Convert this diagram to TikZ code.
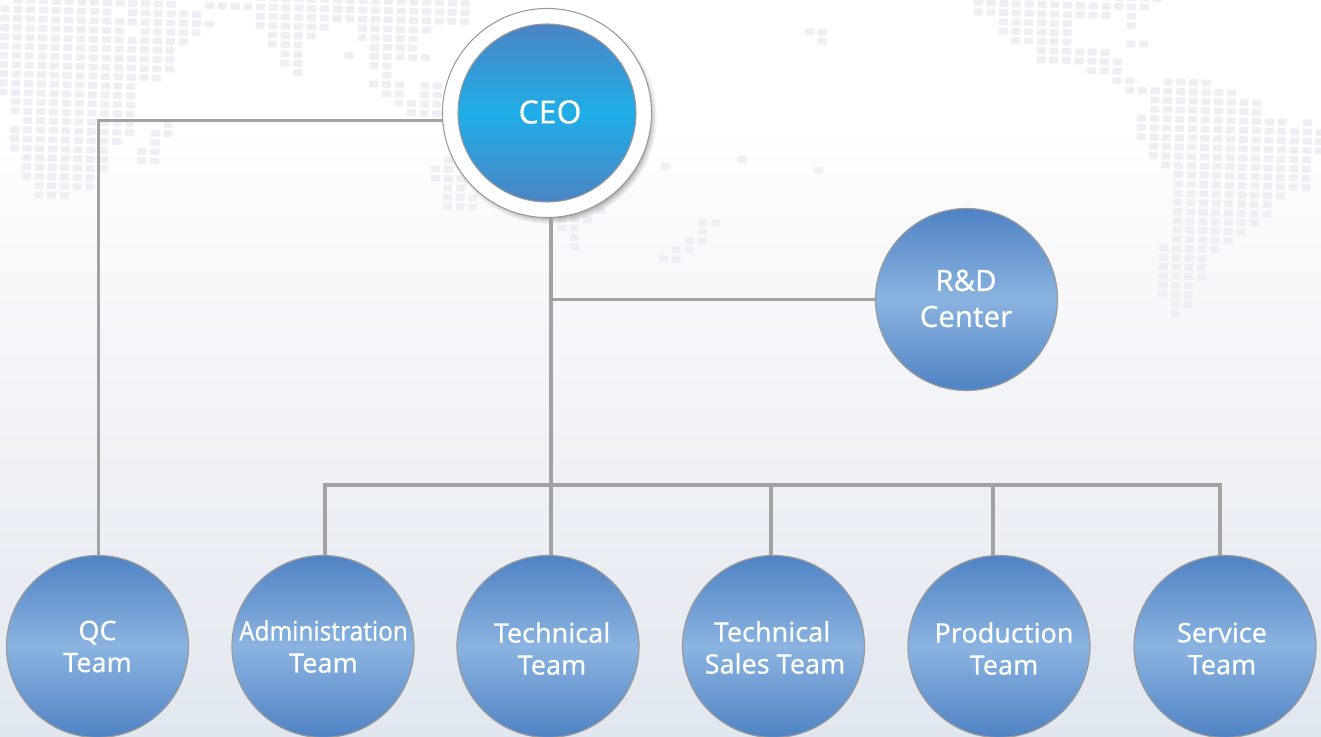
\documentclass[tikz,border=0pt]{standalone}
\usepackage{fontspec}
\setmainfont[RawFeature={embolden=0.35}]{Noto Sans}
\usetikzlibrary{calc}
\pgfdeclarelayer{bglayer}
\pgfdeclarelayer{connlayer}
\pgfsetlayers{bglayer,connlayer,main}
\definecolor{botc}{HTML}{E1E7EF}
\definecolor{c500}{HTML}{EDF0F5}
\definecolor{c340}{HTML}{F5F6F9}
\definecolor{c200}{HTML}{FBFBFC}
\definecolor{mapc}{HTML}{EEEFF4}
\definecolor{linec}{HTML}{A0A2A3}
\definecolor{ringc}{HTML}{9A9A9A}
\definecolor{teamtop}{HTML}{4F83C4}
\definecolor{teammid}{HTML}{8AB3E0}
\definecolor{ceotop}{HTML}{4C84C4}
\definecolor{ceomid}{HTML}{1FAEE8}
\pgfdeclareverticalshading{pagebg}{100bp}{color(0bp)=(botc); color(25bp)=(botc); color(41.1bp)=(c500); color(51.9bp)=(c340); color(61.4bp)=(c200); color(66.2bp)=(white); color(100bp)=(white)}
\tikzset{
  x=0.75pt,y=-0.75pt,
  mapdot/.style={fill=mapc,rounded corners=0.7pt},
  conn/.style={draw=linec,line width=2.3pt},
  team/.style={circle,draw=ringc,line width=0.9pt,inner sep=0pt,outer sep=0pt,minimum size=136.5pt,top color=teamtop,bottom color=teamtop,middle color=teammid},
  ceoring/.style={circle,draw=ringc,line width=0.8pt,fill=white,inner sep=0pt,outer sep=0pt,minimum size=156.8pt},
  ceodisc/.style={circle,draw=ringc,line width=0.8pt,inner sep=0pt,outer sep=0pt,minimum size=133.5pt,top color=ceotop,bottom color=ceotop,middle color=ceomid},
  lab/.style={text=white,align=center,inner sep=0pt,font=\fontsize{20.2pt}{24pt}\selectfont},
}
\newcommand{\dotrows}[3]{%
  \foreach \j/\a/\b in {#3} {%
    \foreach \i in {\a,...,\b} {%
      \fill[mapdot] ({#1+12.77*\i-.231*\j-4.5},{#2+.36*\i+9.233*\j-3.4}) rectangle +(9,6.8);
    }
  }
}
\begin{document}
\begin{tikzpicture}
\useasboundingbox (0,0) rectangle (1321,737);
\begin{pgfonlayer}{bglayer}
  \fill[shading=pagebg] (0,0) rectangle (1321,737);
  \dotrows{5}{9}{%
    -1/1/13,0/0/8,0/10/15,1/0/16,2/0/9,2/11/15,3/0/14,4/0/13,5/0/13,6/0/13,7/0/12,8/0/10,9/0/10,10/1/10,11/1/10,12/2/10,12/13/13,
    13/1/10,13/12/13,14/1/9,14/12/12,15/1/8,15/11/12,16/2/8,16/11/12,17/2/8,18/2/7,19/3/7,20/3/5,
    -1/16/36,-2/20/36,0/20/36,1/20/25,1/28/33,2/21/24,2/28/32,3/21/23,3/29/32,4/22/23,4/27/27,4/29/33,5/22/23,5/29/30,6/23/23,6/30/30,
    7/29/31,7/33/34,8/30/31,8/33/34,9/31/34,10/32/34,15/35/35,16/34/35,17/34/36,18/35/36,19/35/37,20/35/37,
    21/44/46,20/47/47,22/44/45,23/45/45,24/45/45,
    0/63/64,1/64/64,15/52/52,14/58/58,15/64/64,21/55/56,22/55/55,23/54/55,24/53/54,25/52/53}
  \dotrows{978.33}{2.67}{%
    -1/0/14,0/0/13,1/0/10,1/12/12,2/2/7,2/12/12,3/2/7,4/3/7,4/12/13,5/5/10,6/5/11,7/9/11,8/11/12,8/15/18,9/12/20,10/14/22,11/14/22,
    12/13/24,12/26/26,13/13/27,14/13/27,15/14/27,16/14/26,17/15/26,18/16/26,19/16/26,20/16/24,21/16/23,22/16/23,23/16/22,24/16/21,
    25/16/20,26/15/19,27/15/18,28/15/18,29/15/18,30/15/17,31/15/17,32/16/17,33/16/16}
\end{pgfonlayer}
% nodes
\node[ceoring] (ceo) at (547,113) {};
\node[ceodisc] (ceoinner) at (547,113) {};
\node[lab,font=\fontsize{24pt}{28pt}\selectfont] (ceolab) at (550,112) {CEO};
\node[team] (rd) at (966.5,299.5) {};
\node[team] (qc) at (97.5,646.5) {};
\node[team] (admin) at (323,646.5) {};
\node[team] (tech) at (548,646.5) {};
\node[team] (sales) at (773.5,646.5) {};
\node[team] (prod) at (999,646.5) {};
\node[team] (service) at (1225,646.5) {};
\node[lab,font=\fontsize{22pt}{27pt}\selectfont] (rdlab) at (966,298.5) {R\&D\\Center};
\node[lab] (qclab) at (97.5,646.5) {QC\\Team};
\node[lab] (adminlab) at (323.5,646.5) {\scalebox{0.9}[1]{Administration}\\Team};
\node[lab] (techlab) at (552,648.5) {Technical\\Team};
\node[lab] (saleslab) at (775,647.5) {\hspace*{-4.5pt}Technical\\Sales Team};
\node[lab] (prodlab) at (1004,648.5) {Production\\Team};
\node[lab] (servicelab) at (1222,648.5) {Service\\Team};
% shadow and connectors
\coordinate (bus) at ($(ceo.center)+(4,372)$);
\begin{pgfonlayer}{connlayer}
  \foreach \r/\o in {116/0.06,114/0.07,112/0.09,110/0.11,108/0.13,106/0.15}
    \fill[black,opacity=\o] ($(ceo.center)+(3,4)$) circle[radius=\r*0.92];
  \draw[conn] ($(ceo.center)+(-100,7.3)$) -| ($(qc.north)+(1,2)$);
  \draw[conn] ($(ceo.center)+(4,100)$) -- ($(tech.north)+(3,2)$);
  \draw[conn] (rd.west) -- (rd.west -| bus);
  \draw[conn] ($(admin.north)+(2,2)$) |- (bus);
  \draw[conn] ($(service.north)+(-5,2)$) |- (bus);
  \draw[conn] ($(sales.north)+(-2.5,2)$) -- ($(sales.north)+(-2.5,-70)$);
  \draw[conn] ($(prod.north)+(-6,2)$) -- ($(prod.north)+(-6,-70)$);
\end{pgfonlayer}
\end{tikzpicture}
\end{document}
